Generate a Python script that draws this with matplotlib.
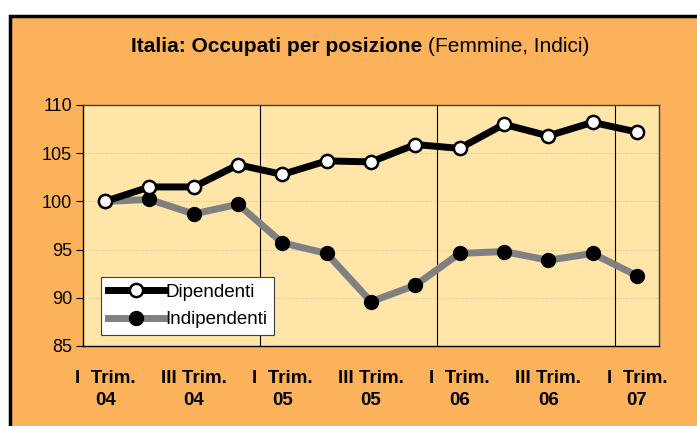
import matplotlib.pyplot as plt
from matplotlib.patches import Rectangle

plt.rcParams['font.family'] = ['Liberation Sans', 'DejaVu Sans']

quarters = ["I  Trim.\n04", "", "III Trim.\n04", "", "I  Trim.\n05", "", "III Trim.\n05", "",
            "I  Trim.\n06", "", "III Trim.\n06", "", "I  Trim.\n07"]
dipendenti = [100, 101.5, 101.5, 103.8, 102.8, 104.2, 104.1, 105.9, 105.5, 108.0, 106.8, 108.2, 107.2]
indipendenti = [100, 100.2, 98.7, 99.7, 95.7, 94.6, 89.6, 91.3, 94.6, 94.8, 93.9, 94.6, 92.3]
year_breaks = [3.5, 7.5, 11.5]

orange = '#FBB25B'
inner = '#FFE5A8'

fig = plt.figure(figsize=(6.97, 4.26), dpi=100)
fig.patch.set_facecolor('white')
frame = Rectangle((9.5 / 697, -0.1), 1.2, (426 - 15.5) / 426 + 0.1,
                  transform=fig.transFigure, facecolor=orange,
                  edgecolor='black', linewidth=2.5, zorder=-5)
fig.patches.append(frame)

ax = fig.add_axes([83 / 697, 1 - 346 / 426, (659 - 83) / 697, (346 - 105) / 426])
ax.set_zorder(2)
ax.set_facecolor(inner)
x = range(len(dipendenti))

ax.plot(x, dipendenti, color='black', linewidth=5, marker='o', markersize=9.5,
        markerfacecolor='white', markeredgecolor='black', markeredgewidth=1.8,
        label='Dipendenti', zorder=4)
ax.plot(x, indipendenti, color='#808080', linewidth=5, marker='o', markersize=10,
        markerfacecolor='black', markeredgecolor='black',
        label='Indipendenti', zorder=3)

for b in year_breaks:
    ax.axvline(b, color='black', linewidth=0.8, zorder=2)
for g in [90, 95, 100, 105]:
    ax.axhline(g, color='#C8B89A', linewidth=0.6, linestyle=(0, (1, 2)), zorder=1)

ax.set_xlim(-0.5, len(dipendenti) - 0.5)
ax.set_ylim(85, 110)
ax.set_yticks([85, 90, 95, 100, 105, 110])
ax.tick_params(axis='y', labelsize=13, length=5, width=0.8, direction='out', pad=3)
ax.set_xticks(list(x))
ax.set_xticklabels(quarters, fontsize=13.5, fontweight='bold', linespacing=1.4)
ax.tick_params(axis='x', length=0, pad=17)
for s in ['top', 'right']:
    ax.spines[s].set_color('#404040')
    ax.spines[s].set_linewidth(1.0)
for s in ['left', 'bottom']:
    ax.spines[s].set_color('black')
    ax.spines[s].set_linewidth(1.0)

leg = ax.legend(loc='lower left', bbox_to_anchor=(18 / 576, 11 / 241), fontsize=13.5,
                frameon=True, fancybox=False, handlelength=3.0, handletextpad=0.1,
                borderpad=0.35, labelspacing=0.55, borderaxespad=0)
leg.get_frame().set_edgecolor('#404040')
leg.get_frame().set_linewidth(0.8)
leg.get_frame().set_facecolor('white')
leg.get_frame().set_alpha(1)

t1 = fig.text(0.5, 1 - 46 / 426, 'Italia: Occupati per posizione ', fontsize=15,
              fontweight='bold', ha='right', va='center')
t2 = fig.text(0.5, 1 - 46 / 426, '(Femmine, Indici)', fontsize=15, ha='left', va='center')

# centre the combined title
fig.canvas.draw()
r = fig.canvas.get_renderer()
w1 = t1.get_window_extent(r).width
w2 = t2.get_window_extent(r).width
cx = 360
t1.set_x((cx - (w1 + w2) / 2 + w1) / 697)
t2.set_x((cx - (w1 + w2) / 2 + w1) / 697)

fig.savefig('out.png', dpi=100, facecolor=fig.get_facecolor())
